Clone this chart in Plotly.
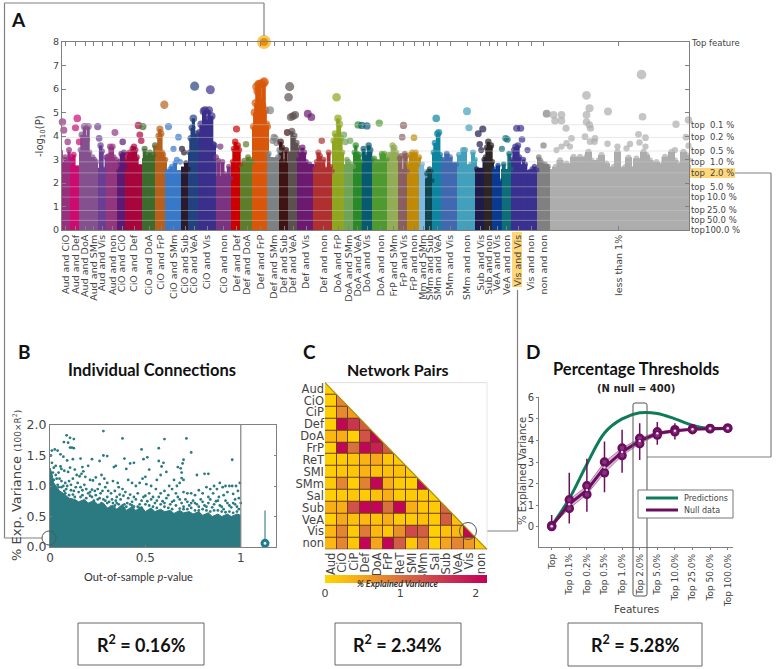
import plotly.graph_objects as go

W, H = 776, 669

# panel A: network pairs, size of each group along the x axis, top of the solid mass
pair_names = ["Aud and CiO", "Aud and Def", "Aud and DoA", "Aud and SMm", "Aud and Vis", "Aud and non",
              "CiO and CiO", "CiO and Def", "CiO and DoA", "CiO and FrP", "CiO and SMm", "CiO and Sub",
              "CiO and VeA", "CiO and Vis", "CiO and non", "Def and Def", "Def and DoA", "Def and FrP",
              "Def and SMm", "Def and Sub", "Def and VeA", "Def and Vis", "Def and non", "DoA and FrP",
              "DoA and SMm", "DoA and VeA", "DoA and Vis", "DoA and non", "FrP and SMm", "FrP and Vis",
              "FrP and non", "Mm and SMm", "SMm and Sub", "SMm and VeA", "SMm and Vis", "SMm and non",
              "Sub and Vis", "Sub and non", "VeA and Vis", "VeA and non", "Vis and Vis", "Vis and non",
              "non and non", "less than 1%"]
pair_sizes = [10.5, 9, 10, 7, 10, 11, 8, 16, 14, 10, 15, 8, 10, 16, 17, 9, 12, 15, 12, 8, 10, 16, 19, 10,
              11, 7, 12, 15, 11, 9, 12, 6, 7, 9, 16, 18, 9, 8, 8, 11, 12, 14, 11, 139.5]
pair_floor = [2.9, 2.75, 3.2, 3.0, 2.65, 2.7, 2.45, 2.8, 3.05, 3.1, 2.55, 2.7, 3.3, 3.4, 2.3, 2.7, 2.8, 4.4,
              3.1, 2.85, 3.35, 2.8, 2.65, 3.2, 2.8, 2.95, 2.95, 3.0, 2.95, 2.6, 2.8, 2.4, 2.35, 3.1, 2.85, 2.8,
              2.65, 2.85, 2.05, 2.6, 2.8, 2.55, 2.8, 2.6]
# level up to which the points of a group merge into one column
pair_solid = [3.4, 3.2, 4.4, 3.1, 3.7, 3.55, 3.3, 3.6, 3.6, 4.3, 2.85, 2.9, 4.75, 5.1, 2.95, 3.75, 3.1, 6.3,
              3.4, 3.75, 4.2, 3.5, 3.4, 4.75, 3.1, 3.6, 3.6, 3.25, 3.6, 3.25, 3.3, 2.8, 2.6, 4.2, 3.25, 3.4,
              3.0, 3.75, 2.75, 3.25, 3.6, 2.8, 3.1, 3.35]
pair_colors = ["#96307F", "#CC0A6F", "#84518F", "#84518F", "#6B3E93", "#93367F", "#5D1A74", "#A8053D",
               "#3D6B2D", "#B8601A", "#3878C8", "#2A1A2E", "#23427F", "#3A2F8A", "#7A3380", "#CC0000",
               "#5E7D2A", "#D9570A", "#7C8284", "#3F1414", "#5C5050", "#6B1A70", "#B03030", "#8FA61E",
               "#6FA356", "#2A8A2A", "#085A70", "#4E9A30", "#93AD55", "#8A5F5F", "#BF8A08", "#7CB8E0",
               "#0E4550", "#0E85A0", "#4169B0", "#42A0BC", "#1E1A4A", "#2E2626", "#0A3A90", "#0E6E78",
               "#3A3090", "#3A3090", "#808080", "#ADADAD"]

# -log10(P) of the connections that stand above the mass, left to right in each group
pair_peaks = [
    [3.4, 4.6, 4.25, 3.1, 2.95, 3.75, 3.4, 2.9], [3.1, 3.2, 4.35, 4.75, 3.75],
    [3.4, 4.05, 3.8, 4.4, 3.9, 3.85, 4.4, 3.3], [3.0, 3.1, 3.0, 2.9], [4.4, 3.9, 3.6, 3.35, 2.6, 2.5, 3.1],
    [3.1, 3.15, 3.55, 3.1, 3.55, 3.1, 4.15, 3.0, 2.8], [2.5, 2.9, 3.25, 3.75, 3.3, 2.7],
    [3.0, 3.2, 3.3, 3.0, 3.45, 3.55, 3.4, 3.1, 4.45, 4.05, 3.8], [4.4, 3.45, 3.2, 3.0, 3.3, 3.1, 3.2, 3.6],
    [3.5, 3.3, 4.0, 4.3, 4.1, 3.3, 3.2, 5.33, 3.0], [2.5, 4.4, 2.6, 2.7, 3.45, 2.85, 3.0, 3.95, 2.9],
    [3.45, 3.3, 2.85, 2.6], [3.3, 3.9, 4.35, 4.75, 6.12, 4.1, 3.9, 3.4],
    [4.15, 4.5, 3.9, 5.05, 5.1, 4.7, 4.4, 5.1, 5.97, 4.85, 3.65, 3.6],
    [3.1, 2.95, 3.55, 2.9, 2.4, 2.3, 2.7, 2.2], [2.9, 3.45, 3.75, 4.3, 3.6, 3.4, 2.8],
    [2.7, 2.95, 3.65, 3.1, 3.0, 2.9], [4.4, 5.0, 5.4, 6.1, 5.9, 6.2, 6.2, 5.6, 5.3, 6.25, 6.3, 5.1, 4.5, 4.4],
    [3.25, 5.1, 3.0, 3.8, 3.95, 3.9, 3.7, 3.1, 3.4], [3.75, 3.5, 2.8, 2.9, 3.4, 4.15],
    [5.65, 6.1, 4.8, 4.2, 4.85, 4.0, 4.9, 3.7, 3.5], [3.0, 3.3, 3.5, 3.3, 2.9, 4.95, 2.8, 4.8, 2.7],
    [2.6, 2.9, 3.3, 3.15, 3.8, 3.0, 2.6, 2.4, 3.3, 2.7, 2.5], [3.8, 4.1, 5.65, 4.75, 4.5, 3.9, 3.3],
    [4.05, 3.75, 3.0, 2.9, 3.8, 2.8, 2.7], [3.3, 3.6, 3.25, 4.47, 3.2, 2.9], [4.45, 3.45, 3.2, 4.43, 3.6, 3.4, 3.0],
    [3.05, 2.9, 4.55, 3.25, 3.25, 3.0], [3.2, 3.2, 3.6, 3.5, 3.3, 3.1], [3.05, 3.15, 3.95, 4.45, 3.25, 3.15, 2.5],
    [2.8, 3.2, 3.3, 3.93, 3.3, 2.9, 3.1], [2.6, 2.8, 2.5, 2.3], [2.4, 2.5, 2.6, 2.5, 2.1],
    [3.3, 3.7, 4.75, 4.1, 4.15, 3.2, 3.0], [3.0, 3.25, 3.1, 2.8, 2.8], [3.2, 2.9, 3.4, 3.4, 5.05, 4.35, 2.8, 3.3, 3.0],
    [2.6, 4.1, 3.65, 3.4, 4.3, 3.0], [3.1, 3.5, 3.75, 3.5, 3.6, 2.9], [2.6, 2.4, 2.75, 2.1],
    [3.45, 2.8, 3.9, 3.85, 3.25, 2.6], [3.0, 3.4, 3.55, 4.33, 3.6, 3.1, 4.33, 3.85, 3.0],
    [2.8, 3.4, 2.5, 2.6, 2.7, 2.55], [3.1, 2.95, 2.85, 3.6, 2.8, 4.95, 2.7],
]

# the grey "less than 1%" group: feature rank and -log10(P)
grey_rank = [581, 526, 529, 547.5, 526, 582, 493, 501, 494.5, 501, 505.5, 526, 529, 530, 615.5, 628, 578, 585,
             579, 625.5, 524.5, 534.5, 529.5, 534, 511, 506, 501, 496, 509.5, 547, 557, 557, 569.5, 566, 585,
             583, 586, 628, 614.5, 611, 623, 626, 528, 526, 531, 513, 519.5, 516, 499.5, 506, 541, 538, 546,
             553, 559.5, 568, 576, 579.5, 589.5, 596, 604.5, 603, 614.5, 613, 621, 628,
             495, 510, 520, 535, 545, 565, 575, 590, 600, 610, 620, 628]
grey_logp = [6.61, 5.73, 5.18, 5.04, 4.9, 4.82, 4.9, 4.9, 4.65, 4.65, 4.33, 4.6, 4.47, 4.33, 4.5, 4.68, 4.07, 3.93,
             3.72, 3.95, 3.97, 3.9, 3.76, 3.76, 3.9, 3.69, 3.55, 3.4, 3.55, 3.67, 3.55, 3.33, 3.66, 3.47, 3.55,
             3.33, 3.19, 3.59, 3.4, 3.33, 3.33, 3.19, 3.33, 3.12, 2.98, 3.12, 3.12, 2.98, 2.98, 2.84, 3.19, 2.98, 2.84,
             2.7, 2.63, 3.09, 3.05, 2.9, 2.98, 2.9, 3.12, 2.84, 2.98, 2.77, 2.84, 2.98,
             2.7, 2.7, 2.7, 2.7, 2.7, 2.7, 2.7, 2.7, 2.7, 2.7, 2.7, 2.7]

top_rank, top_logp = 203.5, 8.0

threshold_names = ["0.1 %", "0.2 %", "0.5 %", "1.0 %", "2.0 %", "5.0 %", "10.0 %", "25.0 %", "50.0 %", "100.0 %"]
threshold_logp = [4.48, 3.94, 3.36, 2.9, 2.43, 1.84, 1.4, 0.83, 0.41, 0.0]

# panel B: upper edge of the dense cloud, then the loose points above it
cloud_p = [0, .01, .02, .03, .05, .07, .1, .13, .15, .18, .2, .23, .25, .28, .3, .33, .35, .38, .4, .43, .45, .48,
           .5, .53, .55, .58, .6, .63, .65, .68, .7, .73, .75, .78, .8, .83, .85, .88, .9, .93, .95, .98, 1]
cloud_r2 = [1.3, 1.2, 1.05, 1.0, .92, .88, .8, .78, .74, .78, .72, .76, .7, .72, .64, .68, .62, .7, .6, .66, .6, .66,
            .58, .64, .58, .62, .58, .6, .55, .6, .56, .58, .54, .58, .52, .56, .5, .54, .5, .54, .5, .54, .52]
loose_points = [
    (.28, 1.90), (.087, 1.83), (.105, 1.79), (.125, 1.77), (.073, 1.72), (.095, 1.71), (.38, 1.78), (.60, 1.77),
    (.715, 1.78), (.74, 1.55), (.48, 1.60), (.57, 1.62), (.955, 1.43), (.105, 1.63), (.115, 1.63), (.125, 1.62),
    (.01, 1.58), (.025, 1.60), (.04, 1.58), (.055, 1.52), (.005, 1.5), (.07, 1.48), (.09, 1.42), (.12, 1.44),
    (.16, 1.45), (.22, 1.44), (.28, 1.50), (.3, 1.49), (.26, 1.41), (.2, 1.33), (.17, 1.31), (.39, 1.45),
    (.42, 1.37), (.44, 1.38), (.51, 1.47), (.49, 1.44), (.57, 1.41), (.595, 1.38), (.585, 1.32), (.70, 1.43),
    (.695, 1.37), (.67, 1.31), (.685, 1.29), (.345, 1.33), (.335, 1.31), (.4, 1.28), (.52, 1.27), (.61, 1.23),
    (.69, 1.22), (.69, 1.13), (.7, 1.1), (.77, 1.18), (.81, 1.2), (.83, 1.2), (.01, 1.38), (.02, 1.3), (.03, 1.33),
    (.045, 1.22), (.055, 1.32), (.06, 1.28), (.03, 1.18), (.05, 1.12), (.075, 1.25), (.095, 1.23), (.105, 1.3),
    (.13, 1.27), (.14, 1.18), (.155, 1.16), (.165, 1.2), (.175, 1.24), (.185, 1.15), (.12, 1.12), (.1, 1.08),
    (.08, 1.05), (.09, 1.0), (.11, 1.02), (.145, 1.05), (.16, .98), (.18, 1.02), (.21, 1.1), (.225, 1.09),
    (.24, 1.14), (.26, 1.03), (.27, 1.18), (.285, 1.12), (.3, 1.05), (.29, .98), (.25, .95), (.22, .94), (.2, .88),
    (.15, .9), (.125, .92), (.075, .92), (.06, .98), (.04, 1.02), (.02, 1.1), (.33, 1.08), (.355, 1.05), (.36, .98),
    (.34, .92), (.32, .88), (.38, .95), (.395, .9), (.41, 1.1), (.43, 1.05), (.45, 1.0), (.47, 1.05), (.485, 1.12),
    (.5, 1.15), (.505, 1.03), (.53, 1.0), (.555, .95), (.58, 1.18), (.56, 1.1), (.6, .92), (.625, 1.0), (.64, .95),
    (.65, 1.1), (.665, 1.0), (.68, 1.05), (.7, .9), (.72, .88), (.74, .88), (.76, .85), (.78, .93), (.8, .88),
    (.82, .98), (.84, .95), (.86, 1.0), (.875, .95), (.89, 1.05), (.905, .98), (.92, 1.0), (.94, 1.0), (.955, 1.0),
    (.975, 1.0), (.995, 1.05), (.985, .92), (.96, .87), (.93, .9), (.91, .85), (.885, .82), (.855, .88), (.83, .82),
    (.97, .78), (.99, .8), (.03, .92), (.05, .88), (.1, .85), (.13, .82), (.17, .85), (.19, .8), (.22, .82), (.24, .85),
    (.26, .8), (.28, .78), (.3, .82), (.31, .74), (.33, .72), (.35, .82), (.37, .78), (.39, .7), (.41, .8), (.43, .74),
    (.45, .78), (.47, .7), (.49, .82), (.51, .75), (.53, .78), (.55, .72), (.57, .82), (.59, .75), (.61, .8), (.63, .7),
    (.65, .76), (.67, .82), (.69, .72), (.71, .78), (.73, .68), (.75, .76), (.77, .7), (.79, .78), (.81, .68), (.83, .72),
    (.85, .65), (.87, .75), (.89, .68), (.91, .62), (.93, .72), (.95, .65), (.97, .7), (.99, .62), (.4, .66), (.44, .66),
    (.48, .64), (.52, .68), (.56, .64), (.6, .66), (.64, .62), (.68, .63), (.72, .62), (.76, .6), (.8, .62), (.84, .58),
    (.88, .6), (.92, .57), (.96, .56), (.36, .7), (.32, .66), (.27, .72), (.23, .76),
    (.015, 1.22), (.035, 1.12), (.06, 1.08), (.07, 1.0), (.085, .95), (.11, .93), (.135, .98), (.17, .93), (.19, .95),
    (.21, .9), (.235, .92), (.265, .88), (.275, .92), (.305, .92), (.325, .78), (.345, .76), (.365, .86), (.385, .84),
    (.405, .72), (.42, .86), (.44, .82), (.46, .88), (.48, .76), (.5, .84), (.52, .88), (.54, .82), (.56, .76), (.58, .88),
    (.6, .72), (.62, .85), (.64, .74), (.66, .88), (.68, .78), (.7, .66), (.72, .74), (.74, .72), (.76, .72), (.78, .66),
    (.8, .74), (.82, .66), (.84, .78), (.86, .7), (.88, .76), (.9, .66), (.92, .76), (.94, .68), (.96, .72), (.98, .66),
    (1.0, .72), (.35, .72), (.42, .7), (.46, .66), (.5, .7), (.54, .66), (.58, .7), (.62, .64), (.66, .68), (.7, .62),
    (.74, .64), (.78, .6), (.82, .6), (.86, .6), (.9, .58), (.94, .58), (.98, .58), (.3, .72), (.25, .78), (.21, .84),
    (.16, .82), (.12, .86), (.08, .88), (.045, .98), (.29, .76), (.34, .68), (.38, .66), (.43, .68), (.47, .64),
]
summary_x, summary_mean, summary_high = 1.127, 0.06, 0.6

# panel C
networks = ["Aud", "CiO", "CiP", "Def", "DoA", "FrP", "ReT", "SMI", "SMm", "Sal", "Sub", "VeA", "Vis", "non"]
pair_r2 = [
    [.05],
    [.05, .8],
    [.05, .75, .6],
    [.05, 2.1, 1.6, 1.2],
    [.3, .4, .05, 1.3, 2.1],
    [.05, 2.1, 1.0, 2.1, 1.8, 1.2],
    [.05, .1, .15, .35, .45, .15, .1],
    [.05, .15, .15, .35, .2, .2, .2, .1],
    [.1, .8, .05, .85, 2.1, .4, .1, .05, 2.05],
    [.05, .1, .15, .1, .2, .4, .1, .1, .1, .05],
    [.4, .4, 1.3, 2.1, 2.1, 1.0, 2.1, .4, .15, .1, 1.1],
    [.05, .45, .2, .3, .2, .4, .1, .1, .2, .1, 1.2, .2],
    [.3, .8, .1, .9, .3, .15, .7, 1.4, 1.2, .05, .2, .3, 2.1],
    [.3, .8, .15, 2.1, .5, 2.1, 1.2, .15, .8, .05, .5, .8, .6, .1],
]

# panel D
threshold_ticks = ["Top", "Top 0.1%", "Top 0.2%", "Top 0.5%", "Top 1.0%", "Top 2.0%", "Top 5.0%", "Top 10.0%",
                   "Top 25.0%", "Top 50.0%", "Top 100.0%"]
predictions = [0.05, 1.3, 2.9, 4.35, 5.0, 5.28, 5.25, 5.0, 4.7, 4.55, 4.57]
null_mean = [0.03, 1.05, 1.7, 2.75, 3.47, 3.98, 4.33, 4.45, 4.52, 4.55, 4.57]
null_upper = [0.05, 1.25, 1.9, 3.0, 3.65, 4.1, 4.4, 4.5, 4.54, 4.56, 4.57]
null_lower = [0.01, 0.85, 1.5, 2.5, 3.3, 3.85, 4.25, 4.4, 4.5, 4.54, 4.57]
null_whisker_high = [0.55, 2.5, 3.15, 3.95, 4.5, 4.8, 4.85, 4.8, 4.65, 4.6, 4.58]
null_whisker_low = [0.0, 0.15, 0.7, 1.6, 2.5, 3.1, 3.8, 4.05, 4.35, 4.5, 4.56]
legend_names = ["Predictions", "Null data"]


def px(x):
    return x / W


def py(y):
    return 1 - y / H


TICK_FONT = dict(family="DejaVu Sans", color="#444444")
FRAME = "#808080"
GREEN = "#0E7C5A"
PURPLE = "#6A0F5E"

fig = go.Figure()

# ---- A: manhattan plot
starts, centers = [], []
edge = 0
for size in pair_sizes:
    starts.append(edge)
    centers.append(edge + size / 2)
    edge += size

fig.add_trace(go.Bar(x=centers, y=pair_floor, width=pair_sizes, marker=dict(color=pair_colors, line_width=0),
                     cliponaxis=False, showlegend=False))
peak_x, peak_y, peak_c = [], [], []
col_x, col_y, col_w, col_c = [], [], [], []
for start, size, color, peaks, solid in zip(starts, pair_sizes, pair_colors, pair_peaks, pair_solid):
    for i, val in enumerate(peaks):
        x = start + size * (i + 0.5) / len(peaks)
        peak_x.append(x)
        peak_y.append(val)
        peak_c.append(color)
        if val <= solid:
            col_x.append(x)
            col_y.append(val)
            col_w.append(size / len(peaks) + 2)
            col_c.append(color)
for rank, val in zip(grey_rank, grey_logp):
    peak_x.append(rank)
    peak_y.append(val)
    peak_c.append(pair_colors[-1])
    if val <= pair_solid[-1]:
        col_x.append(rank)
        col_y.append(val)
        col_w.append(7)
        col_c.append(pair_colors[-1])
fig.add_trace(go.Bar(x=col_x, y=col_y, width=col_w, marker=dict(color=col_c, line_width=0), cliponaxis=False,
                     showlegend=False))
fig.add_trace(go.Scatter(x=peak_x, y=peak_y, mode="markers", cliponaxis=False, showlegend=False,
                         marker=dict(color=peak_c, size=[2.4 + 1.1 * v for v in peak_y], line_width=0)))
fig.add_trace(go.Scatter(x=[top_rank], y=[top_logp], mode="markers", cliponaxis=False, showlegend=False,
                         marker=dict(color="#EE9000", size=11, line=dict(color="#F8C860", width=3))))

# ---- B: individual connections
fig.add_trace(go.Scatter(x=cloud_p, y=cloud_r2, mode="lines", fill="tozeroy", fillcolor="#2B7A82",
                         line=dict(color="#2B7A82", width=1), xaxis="x2", yaxis="y2", showlegend=False))
fig.add_trace(go.Scatter(x=[p[0] for p in loose_points], y=[p[1] for p in loose_points], mode="markers",
                         marker=dict(color="#2B7A82", size=2.8), xaxis="x2", yaxis="y2", showlegend=False))
fig.add_trace(go.Scatter(x=[summary_x], y=[summary_mean], mode="markers", xaxis="x2", yaxis="y2", showlegend=False,
                         cliponaxis=False,
                         error_y=dict(type="data", symmetric=False, array=[summary_high - summary_mean], arrayminus=[0],
                                      color="#6E9CA4", thickness=1.5, width=0),
                         marker=dict(color="#E8F4F4", size=6, line=dict(color="#1C7D8C", width=3))))

# ---- C: network pair heatmap, the upper half is masked further down
pair_grid = [row + [None] * (len(networks) - len(row)) for row in pair_r2]
fig.add_trace(go.Heatmap(
    z=pair_grid, x=networks, y=networks, xaxis="x3", yaxis="y3", zmin=0, zmax=2.15, xgap=1, ygap=1,
    hoverongaps=False,
    colorscale=[[0, "#FFD500"], [0.2, "#F8AC18"], [0.47, "#D8703F"], [0.7, "#CC3D4E"], [1, "#C2005A"]],
    colorbar=dict(orientation="h", x=px(325), xanchor="left", y=py(596), yanchor="bottom", len=162,
                  lenmode="pixels", thickness=8, thicknessmode="pixels", xpad=0, ypad=0, outlinewidth=0,
                  tickvals=[0, 1, 2], ticks="", tickfont=dict(size=11, **TICK_FONT)),
))

# ---- D: percentage thresholds
fig.add_trace(go.Scatter(x=threshold_ticks, y=null_upper, mode="lines", line=dict(color="#A86AA0", width=0.8),
                         xaxis="x4", yaxis="y4", showlegend=False))
fig.add_trace(go.Scatter(x=threshold_ticks, y=null_lower, mode="lines", line=dict(color="#A86AA0", width=0.8),
                         fill="tonexty", fillcolor="rgba(172,95,160,0.45)", xaxis="x4", yaxis="y4", showlegend=False))
fig.add_trace(go.Scatter(x=threshold_ticks, y=predictions, mode="lines", name=legend_names[0], showlegend=False,
                         line=dict(color=GREEN, width=3, shape="spline"), xaxis="x4", yaxis="y4"))
fig.add_trace(go.Scatter(x=threshold_ticks, y=null_mean, mode="lines", name=legend_names[1], showlegend=False,
                         line=dict(color=PURPLE, width=3), xaxis="x4", yaxis="y4",
                         error_y=dict(type="data", symmetric=False,
                                      array=[h - m for h, m in zip(null_whisker_high, null_mean)],
                                      arrayminus=[m - l for m, l in zip(null_mean, null_whisker_low)],
                                      color=PURPLE, thickness=1.5, width=0)))
for edge_vals in (null_upper, null_lower):
    fig.add_trace(go.Scatter(x=threshold_ticks, y=edge_vals, mode="markers", xaxis="x4", yaxis="y4", showlegend=False,
                             marker=dict(color="#8A2F80", size=7, line=dict(color=PURPLE, width=2.5))))
fig.add_trace(go.Scatter(x=threshold_ticks, y=null_mean, mode="markers", xaxis="x4", yaxis="y4", showlegend=False,
                         marker=dict(color="#E9D5E6", size=2.5)))


def axis_domain(a, b, size):
    return [a / size, b / size]


shapes = []


def seg(x0, y0, x1, y1, color=FRAME, width=1.2):
    shapes.append(dict(type="line", xref="paper", yref="paper", x0=px(x0), y0=py(y0), x1=px(x1), y1=py(y1),
                       line=dict(color=color, width=width)))


def ring(cx, cy, r):
    shapes.append(dict(type="circle", xref="paper", yref="paper", x0=px(cx - r), x1=px(cx + r), y0=py(cy - r),
                       y1=py(cy + r), line=dict(color="#555555", width=1)))


def box(x0, y0, x1, y1, line=None, fill=None, layer="above"):
    shapes.append(dict(type="rect", xref="paper", yref="paper", x0=px(x0), x1=px(x1), y0=py(y0), y1=py(y1),
                       line=dict(color=line or "rgba(0,0,0,0)", width=1), fillcolor=fill or "rgba(0,0,0,0)", layer=layer))


# highlights behind the labels of panel A
box(689, 168, 735, 178, fill="#FFD77A", layer="below")
box(512, 232, 522, 287, fill="#FFD77A", layer="below")

# threshold bands in panel A
for val in threshold_logp[:-1]:
    shapes.append(dict(type="line", xref="x", yref="y", x0=1.5, x1=628.5, y0=val, y1=val,
                       line=dict(color="rgba(205,205,205,0.45)", width=1)))

# call-outs between the panels
seg(4.5, 3, 264, 3)
seg(264, 3, 264, 36)
seg(4.5, 3, 4.5, 538)
seg(4.5, 538, 42, 538)
ring(49, 538, 7)
seg(477, 531, 517.5, 531)
seg(517.5, 531, 517.5, 290)
seg(735, 173, 771, 173)
seg(771, 173, 771, 457)
seg(771, 457, 647, 457)

# panel B divider between p-values and the summary marker
shapes.append(dict(type="line", xref="x2", yref="y2 domain", x0=1, x1=1, y0=0, y1=1, line=dict(color=FRAME, width=1.2)))

# panel C: dark grid behind the cells, white mask over the upper half
shapes.append(dict(type="rect", xref="x3 domain", yref="y3 domain", x0=0, x1=1, y0=0, y1=1, layer="below",
                   line_width=0, fillcolor="#6B3E16"))
tri = "M {} {} L {} {} L {} {} Z".format(px(325), py(382.7), px(487), py(549.3), px(487), py(382.7))
shapes.append(dict(type="path", xref="paper", yref="paper", path=tri, fillcolor="white", line=dict(color="white", width=0)))
seg(325, 382.7, 487, 382.7, color="#E6E6E6", width=1)
seg(487, 382.7, 487, 549.3, color="#E6E6E6", width=1)
seg(325, 382.7, 487, 549.3, color="#A89000", width=1.2)
ring(468, 531, 8.5)

# panel D: rounded box around Top 2.0%
rx0, rx1, ry0, ry1 = px(633), px(647), py(403), py(596)
dx, dy = 2 / W, 2 / H
shapes.append(dict(type="path", xref="paper", yref="paper", line=dict(color="#555555", width=1),
                   path=f"M {rx0 + dx} {ry0} L {rx1 - dx} {ry0} Q {rx1} {ry0} {rx1} {ry0 - dy} "
                        f"L {rx1} {ry1 + dy} Q {rx1} {ry1} {rx1 - dx} {ry1} L {rx0 + dx} {ry1} "
                        f"Q {rx0} {ry1} {rx0} {ry1 + dy} L {rx0} {ry0 - dy} Q {rx0} {ry0} {rx0 + dx} {ry0} Z"))

# panel D key
box(638, 490, 733, 518, line="#777777", fill="white")
seg(646, 498, 678, 498, color=GREEN, width=3)
seg(646, 510, 678, 510, color=PURPLE, width=3)

# R2 boxes
box(78, 623, 204, 665, line="#666666")
box(335, 623, 461, 665, line="#666666")
box(568, 623, 702, 666, line="#666666")

notes = []


def note(text, x, y, size, family="DejaVu Sans", color="#444444", anchor="center", angle=0):
    notes.append(dict(text=text, xref="paper", yref="paper", x=px(x), y=py(y), showarrow=False, xanchor=anchor,
                      yanchor="middle", textangle=angle, font=dict(family=family, size=size, color=color)))


for letter, x, y in [("A", 18, 19), ("B", 24, 351), ("C", 309, 351), ("D", 533, 351)]:
    note(f"<b>{letter}</b>", x, y, 19, family="Lato", color="#111111")
note("<b>Individual Connections</b>", 152, 370, 16.5, family="Lato", color="#111111")
note("<b>Network Pairs</b>", 398, 369, 16, family="Lato", color="#111111")
note("<b>Percentage Thresholds</b>", 636, 369, 16.5, family="Lato", color="#111111")
note("<b>(N null = 400)</b>", 636, 388, 10, color="#222222")
for text, x in [("R<sup>2</sup> = 0.16%", 141), ("R<sup>2</sup> = 2.34%", 398), ("R<sup>2</sup> = 5.28%", 635)]:
    note(f"<b>{text}</b>", x, 644, 18, family="Lato", color="#111111")
note("-log<sub>10</sub>(P)", 40, 136, 10, angle=-90)
note('% Exp. Variance <span style="font-size:9px">(100\u00d7R<sup>2</sup>)</span>', 16, 486, 13, angle=-90)
note("Out-of-sample <i>p</i>-value", 138, 576, 11, family="Lato", color="#333333")
note("<b><i>% Explained Variance</i></b>", 398, 583, 9, family="Lato", color="#333333")
note("Features", 636, 609, 10.5)
note("% Explained Variance", 522, 471, 10, angle=-90)
note("Top feature", 689, 43, 8.5, anchor="left")
note(legend_names[0], 682, 498, 8, anchor="left")
note(legend_names[1], 682, 510, 8, anchor="left")
for name, val in zip(threshold_names, threshold_logp):
    notes.append(dict(text="top", xref="paper", yref="y", x=px(689), y=val, showarrow=False, xanchor="left",
                      font=dict(size=8.5, **TICK_FONT)))
    notes.append(dict(text=name, xref="paper", yref="y", x=px(722), y=val, showarrow=False, xanchor="center",
                      font=dict(size=8.5, **TICK_FONT)))

fig.update_layout(
    width=W, height=H, margin=dict(l=0, r=0, t=0, b=0, autoexpand=False), paper_bgcolor="white",
    plot_bgcolor="rgba(0,0,0,0)", barmode="overlay", shapes=shapes, annotations=notes, showlegend=False,
    xaxis=dict(domain=axis_domain(62, 689, W), range=[1.5, 628.5], tickvals=centers, ticktext=pair_names, tickangle=-90,
               tickfont=dict(size=9.5, **TICK_FONT), ticks="inside", ticklen=4, tickcolor=FRAME, showline=True,
               linecolor=FRAME, mirror="allticks", showgrid=False, zeroline=False),
    yaxis=dict(domain=axis_domain(H - 230, H - 42, H), range=[0, 8], dtick=1, tickfont=dict(size=9.5, **TICK_FONT),
               ticks="inside", ticklen=4, tickcolor=FRAME, showline=True, linecolor=FRAME, mirror="allticks",
               showgrid=False, zeroline=False),
    xaxis2=dict(domain=axis_domain(50, 275.7, W), range=[0, 1.183], tickvals=[0, 0.5, 1], ticktext=["0", "0.5", "1"],
                tickfont=dict(size=12, **TICK_FONT), ticks="inside", ticklen=2, tickcolor=FRAME, showline=True,
                linecolor=FRAME, mirror=True, showgrid=False, zeroline=False, anchor="y2"),
    yaxis2=dict(domain=axis_domain(H - 547, H - 425, H), range=[0, 2], tickvals=[0, 0.5, 1, 1.5, 2], tickformat=".1f",
                tickfont=dict(size=12.5, **TICK_FONT), ticks="inside", ticklen=2, tickcolor=FRAME, showline=True,
                linecolor=FRAME, mirror="allticks", showgrid=False, zeroline=False, anchor="x2"),
    xaxis3=dict(domain=axis_domain(325, 487, W), tickangle=-90, tickfont=dict(size=11.5, **TICK_FONT), ticks="",
                showgrid=False, zeroline=False, anchor="y3", type="category", tickmode="array", tickvals=networks),
    yaxis3=dict(domain=axis_domain(H - 549.3, H - 382.7, H), autorange="reversed", tickfont=dict(size=11.5, **TICK_FONT),
                ticks="", showgrid=False, zeroline=False, anchor="x3", type="category", tickmode="array", tickvals=networks),
    xaxis4=dict(domain=axis_domain(539, 733, W), range=[-0.72, 10.3], tickangle=-90, tickfont=dict(size=9, **TICK_FONT),
                ticks="outside", ticklen=2, tickcolor=FRAME, showline=True, linecolor=FRAME, showgrid=False,
                zeroline=False, anchor="y4", type="category", categoryorder="array", categoryarray=threshold_ticks,
                tickmode="array", tickvals=threshold_ticks),
    yaxis4=dict(domain=axis_domain(H - 547.3, H - 397.3, H), range=[-0.95, 6], tickvals=[0, 1, 2, 3, 4, 5, 6],
                tickfont=dict(size=10, **TICK_FONT), ticks="outside", ticklen=2, tickcolor=FRAME, showline=True,
                linecolor=FRAME, showgrid=False, zeroline=False, anchor="x4"),
)

fig.write_html("out.html", config=dict(displayModeBar=False), post_script="document.body.style.margin='0';")
